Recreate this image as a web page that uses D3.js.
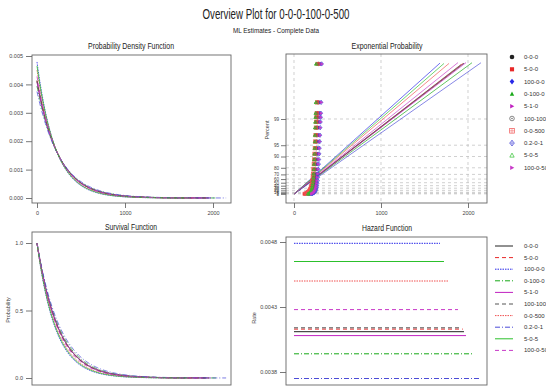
<!DOCTYPE html>
<html>
<head>
<meta charset="utf-8">
<script src="https://cdn.jsdelivr.net/npm/d3@7"></script>
<style>
body { margin: 0; background: #fff; }
svg { display: block; font-family: "Liberation Sans Narrow", "Liberation Sans", Arial, sans-serif; }
.axis text { fill: #444; font-size: 5.5px; }
.axis line { stroke: #555; stroke-width: 0.8; }
.axis path { display: none; }
.pct text { font-size: 4.6px; }
.grid line { stroke: #bbb; stroke-width: 0.7; stroke-dasharray: 3,3; }
</style>
</head>
<body>
<div id="chart"></div>
<script>
// series
const seriesNames = ["0-0-0", "5-0-0", "100-0-0", "0-100-0", "5-1-0", "100-100-0", "0-0-500", "0.2-0-1", "5-0-5", "100-0-500"];
const hazardRates = [0.00411, 0.00413, 0.00479, 0.00394, 0.00408, 0.00414, 0.00450, 0.00375, 0.00465, 0.00428];
const maxTimes = [1954, 1940, 1678, 2046, 1977, 1920, 1782, 2149, 1724, 1885];

// probability plot points (percent plotting positions, times per series)
const plotPercents = [1, 3, 6, 10, 15, 20, 26, 33, 40, 48, 56, 64, 71, 78, 84, 88, 91.5, 94, 96, 97.3, 98.3, 98.8, 99.1, 99.3, 99.64, 99.966];
const plotTimes = [
  [158, 170, 180, 189, 196, 202, 208, 213, 218, 222, 226, 230, 234, 237, 241, 244, 247, 250, 253, 256, 259, 262, 264, 267, 271, 276],
  [118, 135, 150, 162, 172, 181, 189, 196, 202, 208, 213, 218, 223, 227, 231, 235, 239, 243, 247, 251, 255, 259, 262, 265, 270, 277],
  [205, 214, 221, 227, 232, 237, 241, 245, 249, 253, 256, 259, 262, 265, 268, 271, 274, 277, 280, 283, 286, 289, 291, 293, 297, 302],
  [150, 162, 172, 180, 187, 193, 198, 203, 207, 211, 214, 217, 220, 223, 225, 228, 230, 232, 234, 236, 238, 240, 242, 244, 247, 250],
  [190, 200, 209, 217, 224, 230, 236, 242, 247, 252, 257, 261, 266, 270, 274, 278, 282, 286, 290, 294, 297, 301, 304, 307, 311, 316],
  [170, 181, 190, 198, 205, 211, 216, 221, 226, 230, 234, 238, 242, 245, 249, 252, 255, 258, 261, 264, 267, 270, 272, 274, 277, 281],
  [125, 140, 153, 164, 173, 181, 188, 194, 200, 206, 211, 216, 220, 224, 228, 232, 236, 240, 244, 248, 252, 256, 259, 262, 266, 272],
  [195, 212, 226, 236, 244, 250, 255, 260, 264, 268, 272, 275, 278, 281, 284, 287, 290, 293, 296, 299, 302, 305, 307, 309, 312, 318],
  [160, 170, 179, 187, 194, 200, 205, 209, 213, 217, 220, 223, 226, 229, 231, 234, 236, 238, 240, 242, 244, 246, 248, 250, 253, 257],
  [200, 210, 219, 227, 234, 240, 246, 251, 256, 261, 265, 269, 273, 277, 281, 285, 289, 293, 297, 300, 303, 306, 309, 312, 316, 321]
];

const timeTicks = [0, 1000, 2000];
const pdfTicks = [0, 0.001, 0.002, 0.003, 0.004, 0.005];
const survTicks = [0, 0.5, 1];
const hazardTicks = [0.0038, 0.0043, 0.0048];
const percentTicks = [1, 5, 10, 20, 30, 40, 50, 60, 70, 80, 90, 95, 99];

// styles
const colors = ["#222", "#e82828", "#2828e8", "#18a818", "#c020c0", "#555", "#f05050", "#4c4cd8", "#2cc02c", "#c838c8"];
const dashes = [null, "4,3", "1.5,1", "5,2,1,2", null, "4,3", "1.5,1", "5,2,1,2", null, "4,3"];
const shapes = ["circle", "square", "diamond", "triangle", "right", "circleDot", "squarePlus", "diamondPlus", "triangleOpen", "right"];

const width = 546, height = 386;
const svg = d3.select("#chart").append("svg")
  .attr("width", width)
  .attr("height", height);

const title = (txt, x, y, size, len) => {
  svg.append("text")
    .attr("x", x).attr("y", y)
    .attr("text-anchor", "middle")
    .attr("font-size", size)
    .attr("fill", "#222")
    .attr("textLength", len)
    .attr("lengthAdjust", "spacingAndGlyphs")
    .text(txt);
};

title("Overview Plot for 0-0-0-100-0-500", 276, 19, 14, 147);
title("ML Estimates - Complete Data", 276, 33, 8, 86);
title("Probability Density Function", 131, 49, 9.5, 86);
title("Exponential Probability", 387, 49, 9.5, 71);
title("Survival Function", 131, 230, 9.5, 52);
title("Hazard Function", 387, 231, 9.5, 50);

const ylab = (txt, x, y) => {
  svg.append("text")
    .attr("transform", `translate(${x}, ${y}) rotate(-90)`)
    .attr("text-anchor", "middle")
    .attr("font-size", 5.5)
    .attr("fill", "#444")
    .text(txt);
};

const box = (b) => {
  svg.append("rect")
    .attr("x", b.x0).attr("y", b.y0)
    .attr("width", b.x1 - b.x0).attr("height", b.y1 - b.y0)
    .attr("fill", "none")
    .attr("stroke", "#666")
    .attr("stroke-width", 0.9);
};

const pdfBox = { x0: 32, x1: 231, y0: 55, y1: 203 };
const expBox = { x0: 286, x1: 487, y0: 54, y1: 203 };
const survBox = { x0: 32, x1: 231, y0: 232, y1: 385 };
const hazBox = { x0: 286, x1: 487, y0: 237, y1: 385 };

let xLeft = d3.scaleLinear().domain([0, 2000]).range([37, 213]);
let xRight = d3.scaleLinear().domain([0, 2000]).range([294, 468]);
let yPdf = d3.scaleLinear().domain([0, 0.005]).range([198, 56]);
let ySurv = d3.scaleLinear().domain([0, 1]).range([378, 243]);
let yHaz = d3.scaleLinear().domain([0.0038, 0.0048]).range([372, 242]);
// exponential paper: linear in -ln(1 - p)
let yExp = d3.scaleLinear().domain([0, -Math.log(0.01)]).range([194, 119]);
const toExp = (pct) => -Math.log(1 - pct / 100);

// ---- Probability Density Function
svg.append("g").attr("class", "axis")
  .attr("transform", `translate(${pdfBox.x0}, 0)`)
  .call(d3.axisLeft(yPdf).tickValues(pdfTicks).tickSize(6).tickPadding(3).tickFormat(d3.format(".3f")));
svg.append("g").attr("class", "axis")
  .attr("transform", `translate(0, ${pdfBox.y1})`)
  .call(d3.axisBottom(xLeft).tickValues(timeTicks).tickSize(5).tickPadding(3).tickFormat(d3.format("d")));

let pdfLine = d3.line().x((d) => xLeft(d[0])).y((d) => yPdf(d[1]));
let survLine = d3.line().x((d) => xLeft(d[0])).y((d) => ySurv(d[1]));

seriesNames.forEach(function(name, i) {
  let lam = hazardRates[i];
  let ts = d3.range(0, maxTimes[i], 8).concat([maxTimes[i]]);
  svg.append("path")
    .attr("d", pdfLine(ts.map((t) => [t, lam * Math.exp(-lam * t)])))
    .attr("fill", "none")
    .attr("stroke", colors[i])
    .attr("stroke-width", 0.8)
    .attr("stroke-dasharray", dashes[i]);
  svg.append("path")
    .attr("d", survLine(ts.map((t) => [t, Math.exp(-lam * t)])))
    .attr("fill", "none")
    .attr("stroke", colors[i])
    .attr("stroke-width", 0.8)
    .attr("stroke-dasharray", dashes[i]);
});
box(pdfBox);

// ---- Survival Function
svg.append("g").attr("class", "axis")
  .attr("transform", `translate(${survBox.x0}, 0)`)
  .call(d3.axisLeft(ySurv).tickValues(survTicks).tickSize(6).tickPadding(3).tickFormat(d3.format(".1f")));
box(survBox);
ylab("Probability", 10, 310);

// ---- Exponential Probability
let grid = svg.append("g").attr("class", "grid");
grid.selectAll(".v").data(timeTicks).enter().append("line")
  .attr("x1", (d) => xRight(d)).attr("x2", (d) => xRight(d))
  .attr("y1", expBox.y0).attr("y2", expBox.y1);
grid.selectAll(".h").data(percentTicks).enter().append("line")
  .attr("x1", expBox.x0).attr("x2", expBox.x1)
  .attr("y1", (d) => yExp(toExp(d))).attr("y2", (d) => yExp(toExp(d)));

svg.append("g").attr("class", "axis pct")
  .attr("transform", `translate(${expBox.x0}, 0)`)
  .call(d3.axisLeft(yExp).tickValues(percentTicks.map(toExp)).tickSize(5).tickPadding(2)
    .tickFormat((d, i) => percentTicks[i]));
svg.append("g").attr("class", "axis")
  .attr("transform", `translate(0, ${expBox.y1})`)
  .call(d3.axisBottom(xRight).tickValues(timeTicks).tickSize(5).tickPadding(3).tickFormat(d3.format("d")));
ylab("Percent", 269, 130);

const marker = (g, shape, color, r) => {
  let tri = `M0,${-r}L${r * 0.95},${r * 0.75}L${-r * 0.95},${r * 0.75}Z`;
  let dia = `M0,${-r * 1.25}L${r},0L0,${r * 1.25}L${-r},0Z`;
  let rgt = `M${-r * 0.8},${-r}L${r},0L${-r * 0.8},${r}Z`;
  if (shape === "circle") {
    g.append("circle").attr("r", r).attr("fill", color);
  } else if (shape === "square") {
    g.append("rect").attr("x", -r * 0.9).attr("y", -r * 0.9).attr("width", r * 1.8).attr("height", r * 1.8).attr("fill", color);
  } else if (shape === "diamond") {
    g.append("path").attr("d", dia).attr("fill", color);
  } else if (shape === "triangle") {
    g.append("path").attr("d", tri).attr("fill", color);
  } else if (shape === "right") {
    g.append("path").attr("d", rgt).attr("fill", color);
  } else if (shape === "circleDot") {
    g.append("circle").attr("r", r).attr("fill", "none").attr("stroke", color).attr("stroke-width", 0.7);
    g.append("circle").attr("r", r * 0.3).attr("fill", color);
  } else if (shape === "squarePlus") {
    g.append("rect").attr("x", -r).attr("y", -r).attr("width", r * 2).attr("height", r * 2)
      .attr("fill", "none").attr("stroke", color).attr("stroke-width", 0.7);
    g.append("path").attr("d", `M${-r},0H${r}M0,${-r}V${r}`).attr("stroke", color).attr("stroke-width", 0.5);
  } else if (shape === "diamondPlus") {
    g.append("path").attr("d", dia).attr("fill", "none").attr("stroke", color).attr("stroke-width", 0.7);
    g.append("path").attr("d", `M${-r},0H${r}M0,${-r * 1.25}V${r * 1.25}`).attr("stroke", color).attr("stroke-width", 0.5);
  } else if (shape === "triangleOpen") {
    g.append("path").attr("d", tri).attr("fill", "none").attr("stroke", color).attr("stroke-width", 0.7);
  }
};

// fitted lines
seriesNames.forEach(function(name, i) {
  svg.append("line")
    .attr("x1", xRight(0)).attr("y1", yExp(0))
    .attr("x2", xRight(maxTimes[i])).attr("y2", yExp(hazardRates[i] * maxTimes[i]))
    .attr("stroke", colors[i])
    .attr("stroke-opacity", 0.75)
    .attr("stroke-width", 0.9);
});

// data points
seriesNames.forEach(function(name, i) {
  let pts = svg.append("g").selectAll("g")
    .data(plotTimes[i].map((t, j) => [t, plotPercents[j]]))
    .enter()
    .append("g")
    .attr("transform", (d) => `translate(${xRight(d[0])}, ${yExp(toExp(d[1]))})`);
  pts.each(function() {
    marker(d3.select(this), shapes[i], colors[i], 1.7);
  });
});
box(expBox);

// legend with markers
seriesNames.forEach(function(name, i) {
  let g = svg.append("g").attr("transform", `translate(512, ${57 + i * 12.3})`);
  marker(g, shapes[i], colors[i], 2.3);
  svg.append("text")
    .attr("x", 524).attr("y", 57 + i * 12.3 + 2)
    .attr("font-size", 6).attr("fill", "#333")
    .text(name);
});

// ---- Hazard Function
svg.append("g").attr("class", "axis")
  .attr("transform", `translate(${hazBox.x0}, 0)`)
  .call(d3.axisLeft(yHaz).tickValues(hazardTicks).tickSize(6).tickPadding(3).tickFormat(d3.format(".4f")));
ylab("Rate", 256, 318);

seriesNames.forEach(function(name, i) {
  svg.append("line")
    .attr("x1", xRight(0)).attr("x2", xRight(maxTimes[i]))
    .attr("y1", yHaz(hazardRates[i])).attr("y2", yHaz(hazardRates[i]))
    .attr("stroke", colors[i])
    .attr("stroke-width", 1)
    .attr("stroke-dasharray", dashes[i]);
});
box(hazBox);

// legend with line styles
seriesNames.forEach(function(name, i) {
  let y = 246 + i * 11.6;
  svg.append("line")
    .attr("x1", 495).attr("x2", 513)
    .attr("y1", y).attr("y2", y)
    .attr("stroke", colors[i])
    .attr("stroke-width", 1)
    .attr("stroke-dasharray", dashes[i]);
  svg.append("text")
    .attr("x", 524).attr("y", y + 2)
    .attr("font-size", 6).attr("fill", "#333")
    .text(name);
});
</script>
</body>
</html>
